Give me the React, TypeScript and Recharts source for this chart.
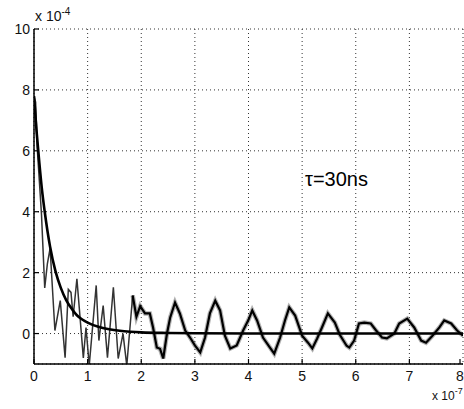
import React from 'react';
import { LineChart, Line, XAxis, YAxis, CartesianGrid } from 'recharts';

// time axis in units of 1e-7 s, amplitude in units of 1e-4
const xTicks = [0, 1, 2, 3, 4, 5, 6, 7, 8];
const yTicks = [0, 2, 4, 6, 8, 10];

// exponential fit, tau = 30 ns
const fitT = [0, 0.05, 0.1, 0.15, 0.2, 0.3, 0.4, 0.5, 0.6, 0.7, 0.8, 0.9, 1.0, 1.2, 1.4, 1.6, 1.8, 2.0, 2.5, 3.0, 4.0, 5.0, 6.0, 7.0, 8.0];
const fitV = [7.8, 6.6, 5.6, 4.7, 4.0, 2.85, 2.05, 1.5, 1.1, 0.82, 0.6, 0.46, 0.36, 0.22, 0.14, 0.09, 0.06, 0.04, 0.02, 0.01, 0, 0, 0, 0, 0];

// measured signal, early (thin) part
const earlyT = [0, 0.03, 0.06, 0.1, 0.14, 0.17, 0.2, 0.25, 0.3, 0.39, 0.49, 0.58, 0.64, 0.69, 0.73, 0.8, 0.92, 0.97, 1.03, 1.16, 1.21, 1.29, 1.37, 1.48, 1.57, 1.66, 1.73, 1.84];
const earlyV = [7.8, 7.6, 6.1, 5.0, 3.9, 2.7, 1.5, 2.3, 2.8, 0.1, 1.08, -0.79, 1.45, 1.35, 0.55, 1.8, -0.8, 0.2, -1.05, 1.58, -0.23, 0.92, -0.79, 1.52, -0.82, 0.0, -1.05, 1.25];

// measured signal, later noisy ringing
const lateT = [1.84, 1.91, 1.98, 2.07, 2.16, 2.22, 2.29, 2.35, 2.41, 2.48, 2.54, 2.63, 2.72, 2.82, 2.91, 3.0, 3.1, 3.19, 3.28, 3.38, 3.47, 3.56, 3.66, 3.78, 3.9, 4.0, 4.07, 4.16, 4.27, 4.4, 4.48, 4.59, 4.68, 4.76, 4.87, 5.0, 5.11, 5.19, 5.28, 5.37, 5.48, 5.61, 5.7, 5.83, 5.88, 5.97, 6.06, 6.16, 6.28, 6.38, 6.49, 6.58, 6.72, 6.81, 6.96, 7.09, 7.22, 7.31, 7.43, 7.56, 7.65, 7.78, 7.89, 8.0];
const lateV = [1.25, 0.55, 0.9, 0.66, 0.66, 0.2, -0.46, -0.5, -0.82, 0.0, 0.53, 1.02, 0.66, 0.1, -0.13, -0.39, -0.62, -0.13, 0.66, 1.08, 0.76, -0.07, -0.49, -0.39, 0.1, 0.45, 0.76, 0.43, -0.13, -0.46, -0.66, -0.13, 0.43, 0.86, 0.59, -0.07, -0.3, -0.49, -0.16, 0.2, 0.66, 0.36, -0.03, -0.4, -0.46, -0.23, 0.33, 0.36, 0.33, 0.1, -0.13, -0.16, 0, 0.33, 0.49, 0.2, -0.23, -0.3, -0.07, 0.2, 0.43, 0.33, 0.1, -0.07];

const toRows = (t: number[], v: number[]) => t.map((x, i) => ({ t: x, v: v[i] }));
const fitData = toRows(fitT, fitV);
const earlyData = toRows(earlyT, earlyV);
const lateData = toRows(lateT, lateV);

const FONT = '"Liberation Sans", Arial, Helvetica, sans-serif';
const GAP = 8; // tickSize + tickMargin
const TICK = 5;

const BottomTick = ({ x, y, payload }: any) => (
  <g>
    <line x1={x} x2={x} y1={y - GAP} y2={y - GAP - TICK} stroke="#000" strokeWidth={1.2} />
    <text x={x} y={y - 1} dy="0.71em" textAnchor="middle" fontSize={14} fontFamily={FONT} fill="#111">
      {payload.value}
    </text>
  </g>
);

const TopTick = ({ x, y }: any) => (
  <line x1={x} x2={x} y1={y + GAP} y2={y + GAP + TICK} stroke="#000" strokeWidth={1.2} />
);

const LeftTick = ({ x, y, payload }: any) => (
  <g>
    <line x1={x + GAP} x2={x + GAP + TICK} y1={y} y2={y} stroke="#000" strokeWidth={1.2} />
    <text x={x + 4} y={y} dy="0.36em" textAnchor="end" fontSize={14} fontFamily={FONT} fill="#111">
      {payload.value}
    </text>
  </g>
);

const RightTick = ({ x, y }: any) => (
  <line x1={x - GAP} x2={x - GAP - TICK} y1={y} y2={y} stroke="#000" strokeWidth={1.2} />
);

export default function App() {
  return (
    <div style={{ position: 'absolute', left: 0, top: 0, width: 464, height: 409, background: '#fff', fontFamily: FONT, overflow: 'hidden' }}>
      <LineChart width={464} height={409} margin={{ top: 29, right: 1, left: 0, bottom: 0 }}>
        <CartesianGrid stroke="#333" strokeDasharray="1 3" strokeWidth={1} />
        <XAxis
          dataKey="t"
          type="number"
          domain={[0, 8]}
          ticks={xTicks}
          allowDataOverflow
          height={45}
          axisLine={{ stroke: '#000', strokeWidth: 1.5 }}
          tickLine={false}
          tickSize={6}
          tickMargin={2}
          tick={<BottomTick />}
        />
        <XAxis
          xAxisId="top"
          orientation="top"
          type="number"
          domain={[0, 8]}
          ticks={xTicks}
          allowDataOverflow
          height={0}
          axisLine={{ stroke: '#000', strokeWidth: 1.5 }}
          tickLine={false}
          tickSize={6}
          tickMargin={2}
          tick={<TopTick />}
        />
        <YAxis
          type="number"
          domain={[-1, 10]}
          ticks={yTicks}
          allowDataOverflow
          width={34}
          axisLine={{ stroke: '#000', strokeWidth: 1.5 }}
          tickLine={false}
          tickSize={6}
          tickMargin={2}
          tick={<LeftTick />}
        />
        <YAxis
          yAxisId="right"
          orientation="right"
          type="number"
          domain={[-1, 10]}
          ticks={yTicks}
          allowDataOverflow
          width={0}
          axisLine={{ stroke: '#000', strokeWidth: 1.5 }}
          tickLine={false}
          tickSize={6}
          tickMargin={2}
          tick={<RightTick />}
        />
        <Line data={earlyData} dataKey="v" type="linear" stroke="#333" strokeWidth={1.5} dot={false} isAnimationActive={false} />
        {/* soft halo stands in for the high-frequency noise */}
        <Line data={lateData} dataKey="v" type="linear" stroke="#000" strokeOpacity={0.3} strokeWidth={4.5} dot={false} isAnimationActive={false} />
        <Line data={lateData} dataKey="v" type="linear" stroke="#000" strokeWidth={2.2} dot={false} isAnimationActive={false} />
        <Line data={fitData} dataKey="v" type="monotone" stroke="#000" strokeWidth={2.6} dot={false} isAnimationActive={false} />
      </LineChart>

      {/* axis multipliers and annotation */}
      <div style={{ position: 'absolute', left: 35, top: 8, fontSize: 14, color: '#111', whiteSpace: 'nowrap' }}>
        x 10<span style={{ position: 'relative', top: -6, fontSize: 10 }}>-4</span>
      </div>
      <div style={{ position: 'absolute', left: 432, top: 389, fontSize: 12, color: '#111', whiteSpace: 'nowrap' }}>
        x 10<span style={{ position: 'relative', top: -6, fontSize: 9 }}>-7</span>
      </div>
      <div style={{ position: 'absolute', left: 305, top: 168, fontSize: 20, color: '#000', whiteSpace: 'nowrap' }}>
        τ=30ns
      </div>
    </div>
  );
}
